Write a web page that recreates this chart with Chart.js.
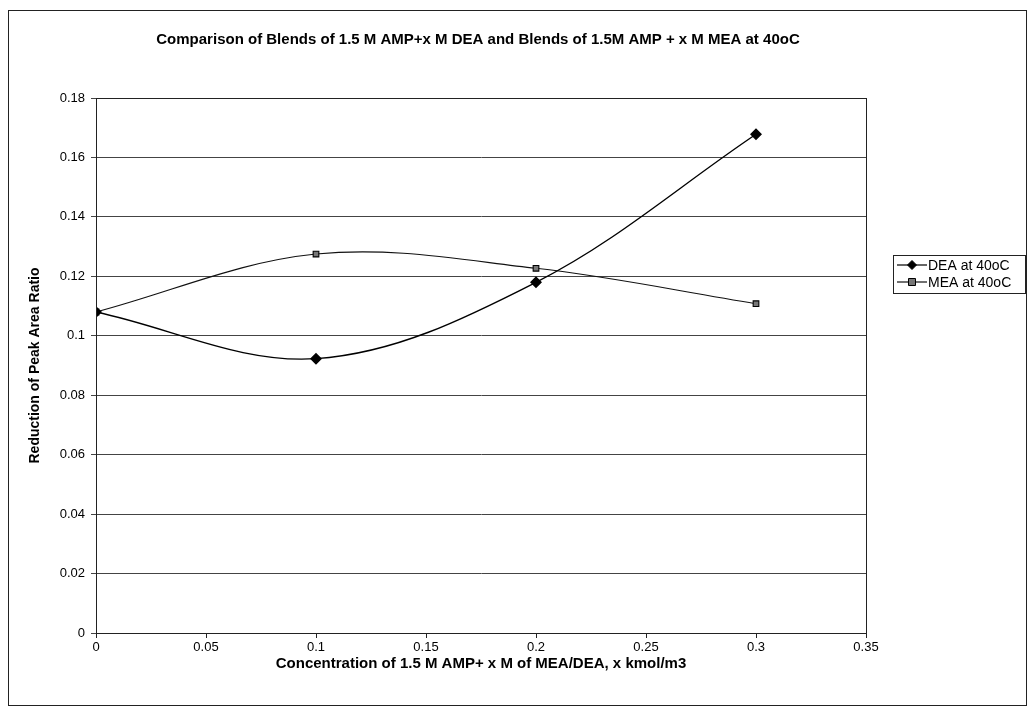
<!DOCTYPE html>
<html>
<head>
<meta charset="utf-8">
<script src="https://cdn.jsdelivr.net/npm/chart.js@4"></script>
<style>
  html, body { margin: 0; padding: 0; background: #fff; }
  #wrap { width: 1029px; height: 707px; }
</style>
</head>
<body>
<div id="wrap"><canvas id="blendChart" width="1029" height="707"></canvas></div>
<script>
const concentrations = [0, 0.1, 0.2, 0.3];
const deaValues = [0.108, 0.0923, 0.118, 0.1678];
const meaValues = [0.108, 0.1275, 0.1227, 0.1108];
const seriesNames = ['DEA at 40oC', 'MEA at 40oC'];
const xTickValues = [0, 0.05, 0.1, 0.15, 0.2, 0.25, 0.3, 0.35];
const yTickValues = [0, 0.02, 0.04, 0.06, 0.08, 0.1, 0.12, 0.14, 0.16, 0.18];
const chartTitle = 'Comparison of Blends of 1.5 M AMP+x M DEA and Blends of 1.5M AMP + x M MEA at 40oC';

const fontFamily = '"Liberation Sans", Arial, sans-serif';

function toPoints(xs, ys) {
    return xs.map((x, i) => ({ x: x, y: ys[i] }));
}

// title, borders + excel style legend (line - marker - line)
const framePlugin = {
    id: 'frame',
    afterDraw(chart) {
        const ctx = chart.ctx;
        const a = chart.chartArea;
        ctx.save();
        ctx.strokeStyle = '#222';
        ctx.lineWidth = 1;
        ctx.strokeRect(Math.round(a.left) + 0.5, Math.round(a.top) + 0.5,
            Math.round(a.right - a.left), Math.round(a.bottom - a.top));
        ctx.strokeRect(8.5, 10.5, 1018, 695);

        ctx.fillStyle = '#000';
        ctx.font = 'bold 15px ' + fontFamily;
        ctx.textAlign = 'center';
        ctx.textBaseline = 'middle';
        ctx.fillText(chartTitle, 478, 40);

        // legend box
        const lx = 893, ly = 255, lw = 132, lh = 38;
        ctx.strokeRect(lx + 0.5, ly + 0.5, lw, lh);
        ctx.font = '14px ' + fontFamily;
        ctx.textAlign = 'left';
        chart.data.datasets.forEach((ds, i) => {
            const y = ly + 10 + i * 17;
            ctx.strokeStyle = ds.borderColor;
            ctx.lineWidth = 1.2;
            ctx.beginPath();
            ctx.moveTo(lx + 4, y);
            ctx.lineTo(lx + 34, y);
            ctx.stroke();
            ctx.fillStyle = ds.pointBackgroundColor;
            ctx.strokeStyle = ds.pointBorderColor;
            ctx.lineWidth = 1;
            ctx.beginPath();
            if (ds.pointStyle === 'rect') {
                ctx.rect(lx + 15.5, y - 3.5, 7, 7);
            } else {
                ctx.moveTo(lx + 19, y - 4.5);
                ctx.lineTo(lx + 23.5, y);
                ctx.lineTo(lx + 19, y + 4.5);
                ctx.lineTo(lx + 14.5, y);
                ctx.closePath();
            }
            ctx.fill();
            ctx.stroke();
            ctx.fillStyle = '#000';
            ctx.fillText(ds.label, lx + 35, y + 1);
        });
        ctx.restore();
    }
};

const ctx = document.getElementById('blendChart').getContext('2d');

new Chart(ctx, {
    type: 'line',
    data: {
        datasets: [{
            label: seriesNames[0],
            data: toPoints(concentrations, deaValues),
            borderColor: '#000',
            borderWidth: 1.4,
            pointStyle: 'rectRot',
            pointRadius: 5,
            pointBackgroundColor: '#000',
            pointBorderColor: '#000',
            tension: 0.35
        }, {
            label: seriesNames[1],
            data: toPoints(concentrations, meaValues),
            borderColor: '#111',
            borderWidth: 1.1,
            pointStyle: 'rect',
            pointRadius: 4,
            pointBackgroundColor: '#777',
            pointBorderColor: '#000',
            tension: 0.35
        }]
    },
    options: {
        responsive: false,
        animation: false,
        events: [],
        layout: { padding: { top: 98, left: 21, right: 163, bottom: 30 } },
        plugins: {
            legend: { display: false },
            tooltip: { enabled: false },
            title: { display: false }
        },
        scales: {
            x: {
                type: 'linear',
                min: 0,
                max: 0.35,
                afterBuildTicks(scale) {
                    scale.ticks = xTickValues.map(v => ({ value: v }));
                },
                afterFit(scale) {
                    scale.height = 44;
                },
                ticks: {
                    color: '#000',
                    font: { family: fontFamily, size: 13 },
                    padding: 2,
                    maxRotation: 0,
                    callback: v => String(v)
                },
                grid: { drawOnChartArea: false, drawTicks: true, tickLength: 5, color: '#222' },
                border: { color: '#222' },
                title: {
                    display: true,
                    text: 'Concentration of 1.5 M AMP+ x M of MEA/DEA, x kmol/m3',
                    color: '#000',
                    font: { family: fontFamily, size: 15, weight: 'bold' },
                    padding: { top: 0 }
                }
            },
            y: {
                min: 0,
                max: 0.18,
                afterBuildTicks(scale) {
                    scale.ticks = yTickValues.map(v => ({ value: v }));
                },
                afterFit(scale) {
                    scale.width = 75;
                },
                ticks: {
                    color: '#000',
                    font: { family: fontFamily, size: 13 },
                    padding: 6,
                    callback: v => String(+v.toFixed(2))
                },
                grid: { color: '#444', lineWidth: 1, tickLength: 5 },
                border: { color: '#222' },
                title: {
                    display: true,
                    text: 'Reduction of Peak Area Ratio',
                    color: '#000',
                    font: { family: fontFamily, size: 14, weight: 'bold' },
                    padding: { top: 6, bottom: 3 }
                }
            }
        }
    },
    plugins: [framePlugin]
});
</script>
</body>
</html>
